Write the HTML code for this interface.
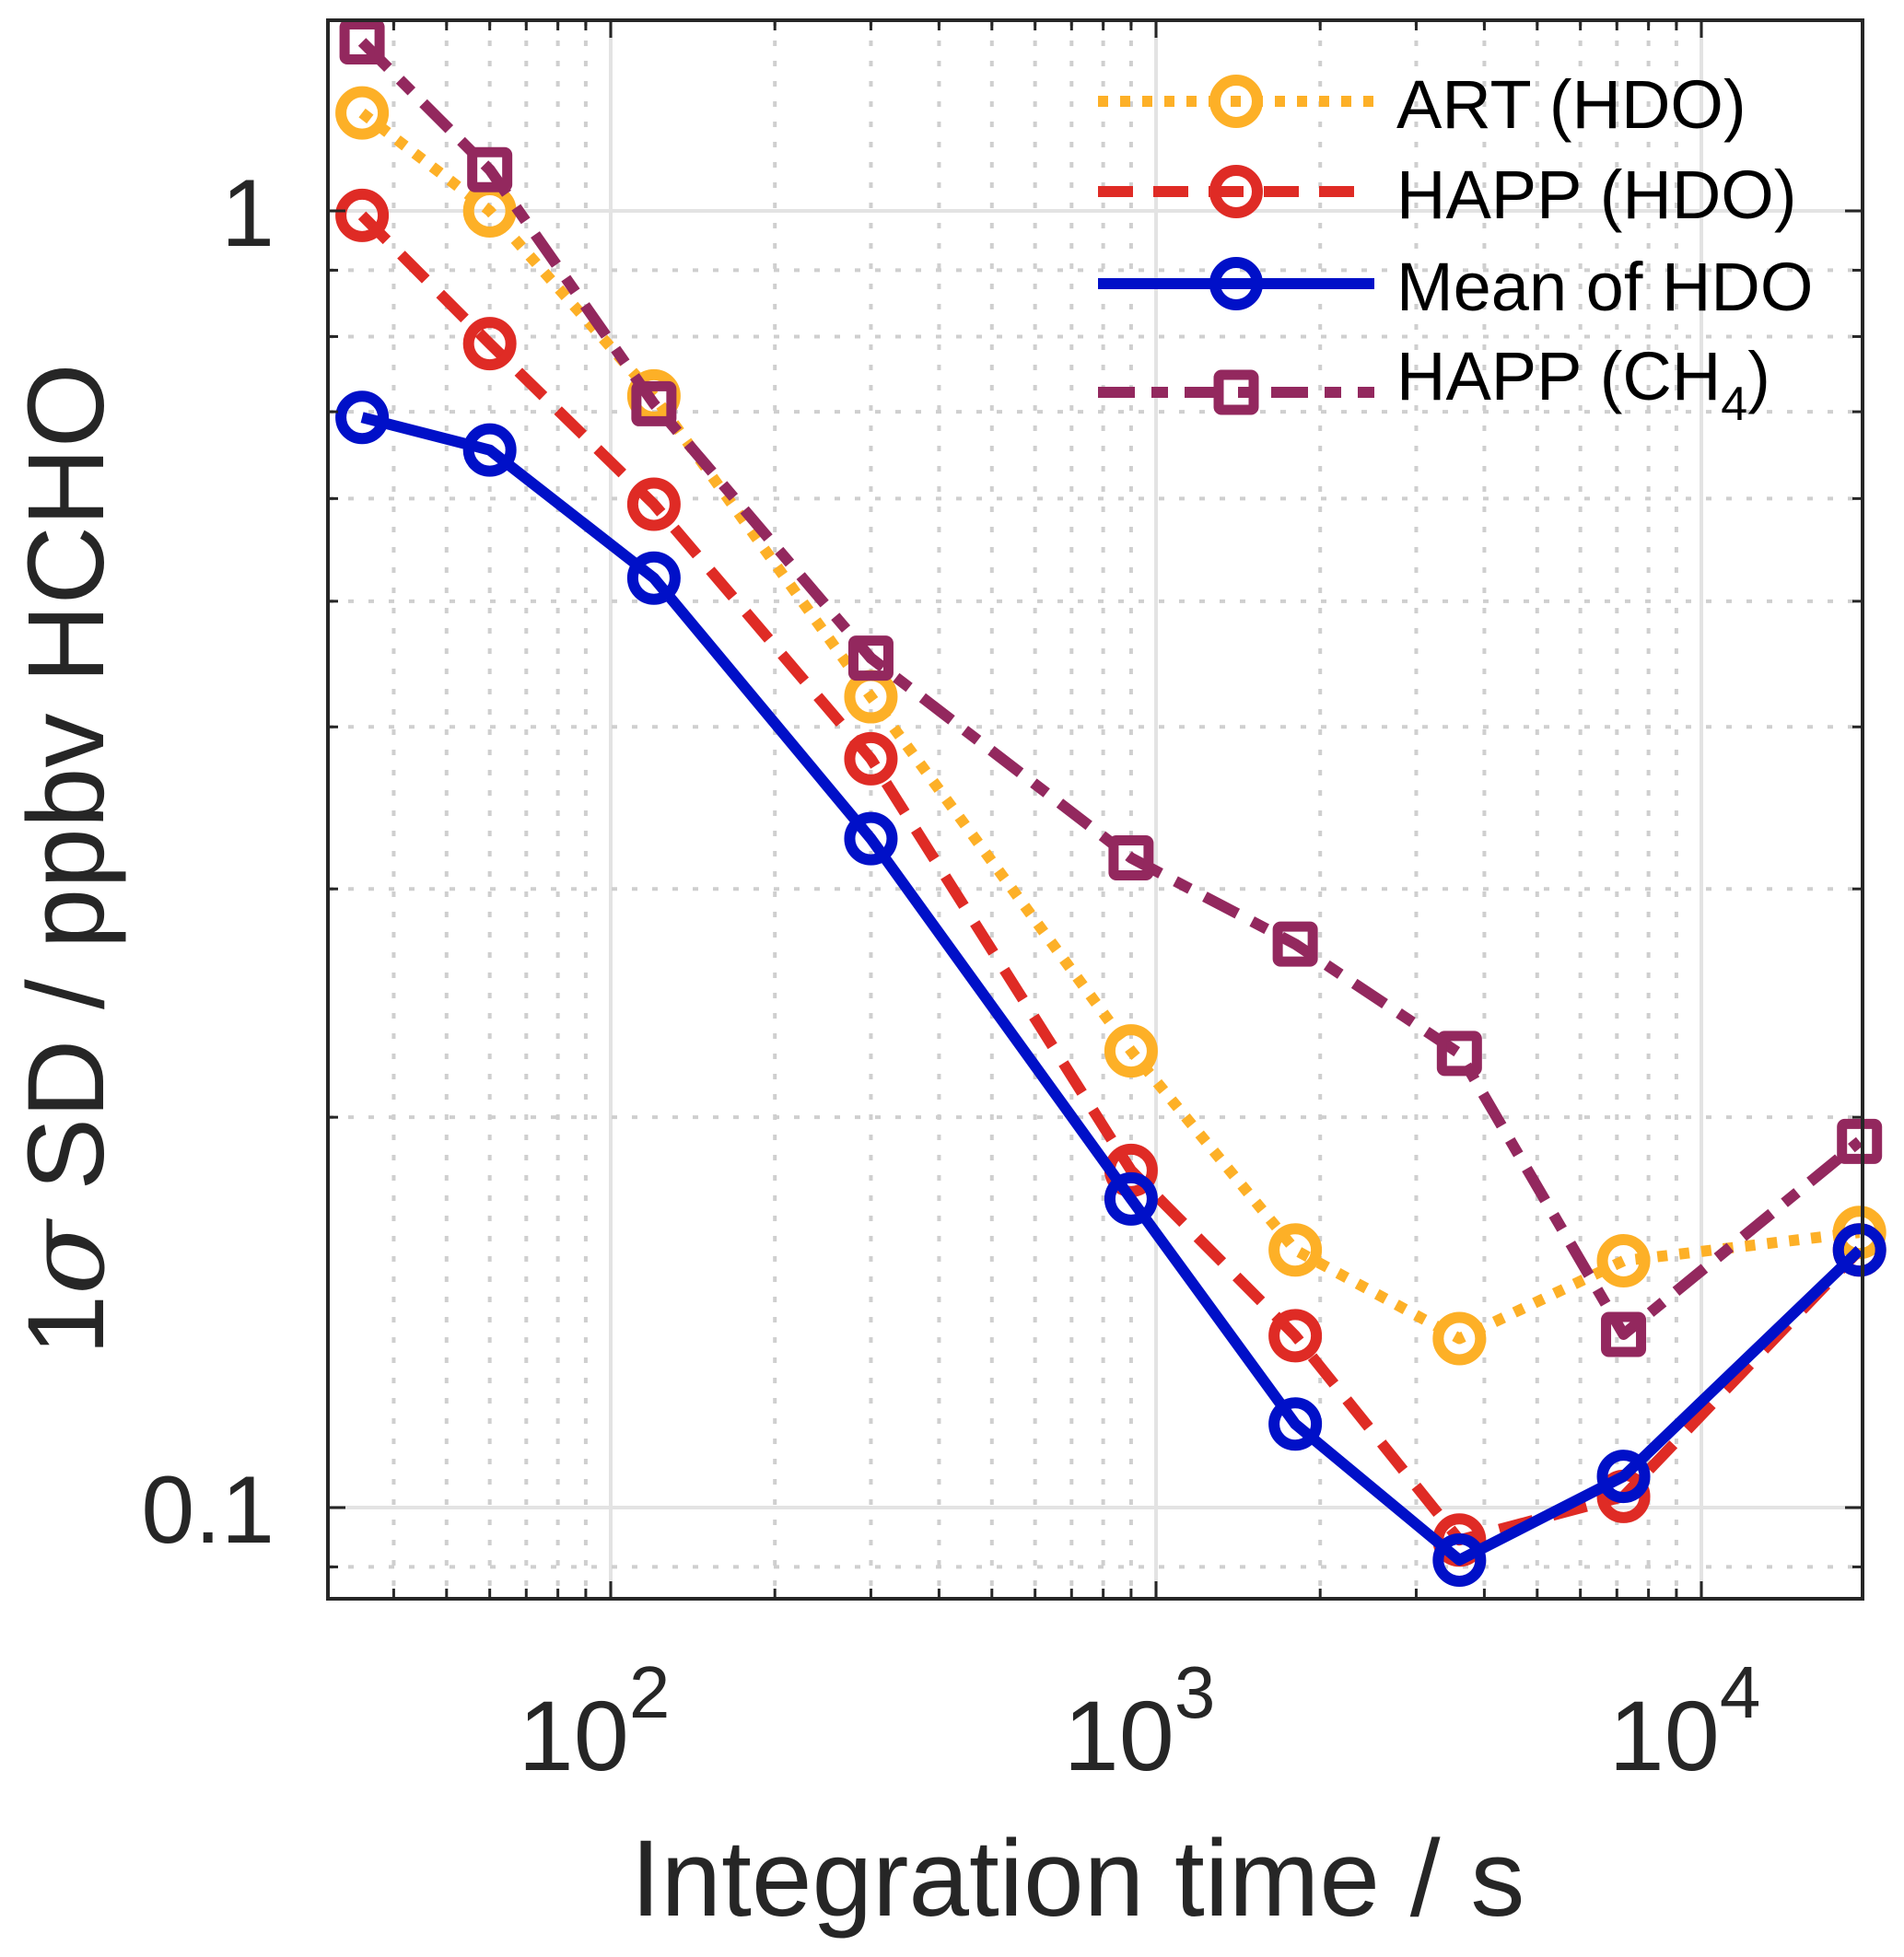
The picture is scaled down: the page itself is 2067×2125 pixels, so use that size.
<!DOCTYPE html>
<html><head><meta charset="utf-8"><style>
html,body{margin:0;padding:0;background:#fff;}
svg{display:block;font-family:"Liberation Sans",sans-serif;}
</style></head><body>
<svg id="chart" width="2067" height="2125" viewBox="0 0 2067 2125" xmlns="http://www.w3.org/2000/svg">
<g id="grid"></g>
<g id="series"></g>
<g id="axes"></g>
<g id="legend"></g>
<text x="1170" y="2080" font-size="118" fill="#262626" text-anchor="middle">Integration time / s</text>
<text transform="translate(112,933) rotate(-90)" font-size="118" fill="#262626" text-anchor="middle">1<tspan font-style="italic" font-family="'DejaVu Serif',serif">σ</tspan> SD / ppbv HCHO</text>
</svg>
<script>
const times = [35, 60, 120, 300, 900, 1800, 3600, 7200, 19500];
const artHDO = [1.19, 1.00, 0.72, 0.422, 0.225, 0.158, 0.135, 0.155, 0.163];
const happHDO = [0.992, 0.79, 0.594, 0.378, 0.182, 0.1357, 0.0944, 0.102, 0.158];
const meanHDO = [0.693, 0.654, 0.521, 0.328, 0.173, 0.116, 0.0911, 0.1057, 0.158];
const happCH4 = [1.35, 1.076, 0.71, 0.452, 0.317, 0.272, 0.224, 0.136, 0.1916];
const xTickExps = [2, 3, 4];
const yTickLabels = ["0.1", "1"];
const yTickValues = [0.1, 1];

const L=356, R=2022, T=22, B=1736;
const X0=663, XD=592;
const Y1=229, YD=1408;
const sx = v => X0 + (Math.log10(v)-2)*XD;
const sy = v => Y1 - Math.log10(v)*YD;
const NS="http://www.w3.org/2000/svg";
function mk(tag, attrs, parent){const e=document.createElementNS(NS,tag);for(const k in attrs)e.setAttribute(k,attrs[k]);parent.appendChild(e);return e;}
const grid=document.getElementById('grid'), axes=document.getElementById('axes'), series=document.getElementById('series'), legend=document.getElementById('legend');

for(let d=1; d<=4; d++){
  for(let m=1; m<=9; m++){
    const v=m*Math.pow(10,d); const x=sx(v);
    if(x<=L+1||x>=R-1) continue;
    if(m===1){
      const g=mk('line',{x1:x,y1:T,x2:x,y2:B,stroke:'#e3e3e3','stroke-width':4},grid);
      
      
    } else {
      const g=mk('line',{x1:x,y1:T,x2:x,y2:B,stroke:'#cfcfcf','stroke-width':4,'stroke-dasharray':'6 16'},grid);
      
      
    }
    const len = m===1?19:11;
    mk('line',{x1:x,y1:B,x2:x,y2:B-len,stroke:'#262626','stroke-width':3},axes);
    mk('line',{x1:x,y1:T,x2:x,y2:T+len,stroke:'#262626','stroke-width':3},axes);
  }
}
for(let d=-2; d<=0; d++){
  for(let m=1; m<=9; m++){
    const v=m*Math.pow(10,d); const y=sy(v);
    if(y<=T+1||y>=B-1) continue;
    if(m===1){
      const g=mk('line',{x1:L,y1:y,x2:R,y2:y,stroke:'#e3e3e3','stroke-width':4},grid);
      
      
    } else {
      const g=mk('line',{x1:L,y1:y,x2:R,y2:y,stroke:'#cfcfcf','stroke-width':4,'stroke-dasharray':'6 16'},grid);
      
      
    }
    const len = m===1?19:11;
    mk('line',{x1:L,y1:y,x2:L+len,y2:y,stroke:'#262626','stroke-width':3},axes);
    mk('line',{x1:R,y1:y,x2:R-len,y2:y,stroke:'#262626','stroke-width':3},axes);
  }
}
const frame=mk('rect',{x:L,y:T,width:R-L,height:B-T,fill:'none',stroke:'#262626','stroke-width':4},axes);



xTickExps.forEach(e=>{
  const t=mk('text',{x:sx(Math.pow(10,e))-18,y:1922,'font-size':108,fill:'#262626','text-anchor':'middle'},axes);
  
  
  t.textContent='10';
  const s=mk('tspan',{dy:-57,'font-size':80},t);
  s.textContent=String(e);
});
yTickValues.forEach((v,i)=>{
  const t=mk('text',{x:298,y:sy(v)+38,'font-size':104,fill:'#262626','text-anchor':'end'},axes);
  
  
  t.textContent=yTickLabels[i];
});

const specs=[
  {name:'art-hdo', data:artHDO, color:'#fdb027', dash:'11 13', marker:'circle', label:'ART (HDO)'},
  {name:'happ-hdo', data:happHDO, color:'#df2b25', dash:'38 22', marker:'circle', label:'HAPP (HDO)'},
  {name:'mean-hdo', data:meanHDO, color:'#0010c8', dash:'none', marker:'circle', label:'Mean of HDO'},
  {name:'happ-ch4', data:happCH4, color:'#93285e', dash:'40 18 18 18', marker:'square', label:'HAPP (CH4)'}
];
const drawOrder=[0,1,3,2];
function marker(parent, kind, x, y, color){
  let m;
  if(kind==='circle') m=mk('circle',{cx:x,cy:y,r:23,fill:'none',stroke:color,'stroke-width':12},parent);
  else m=mk('rect',{x:x-19,y:y-19,width:38,height:38,rx:3,fill:'none',stroke:color,'stroke-width':11},parent);
  return m;
}
drawOrder.forEach(i=>{
  const s=specs[i];
  const g=mk('g',{},series);
  
  
  const pts=times.map((t,j)=>sx(t)+','+sy(s.data[j])).join(' ');
  const pl=mk('polyline',{points:pts,fill:'none',stroke:s.color,'stroke-width':12,'stroke-dasharray':s.dash,'stroke-linejoin':'round'},g);
  
  
  times.forEach((t,j)=>{
    const m=marker(g,s.marker,sx(t),sy(s.data[j]),s.color);
    
    
  });
});

const legY=[110,208,308,426];
specs.forEach((s,i)=>{
  const g=mk('g',{},legend);
  
  
  const y=legY[i];
  mk('line',{x1:1192,y1:y,x2:1492,y2:y,stroke:s.color,'stroke-width':12,'stroke-dasharray':s.dash},g);
  marker(g,s.marker,1342,y,s.color);
  const t=mk('text',{x:1516,y:i===3?y+8:y+29,'font-size':74,fill:'#000'},g);
  if(i===3){
    t.textContent='HAPP (CH';
    const sub=mk('tspan',{dy:22,'font-size':52},t); sub.textContent='4';
    const cl=mk('tspan',{dy:-22,'font-size':74},t); cl.textContent=')';
  } else t.textContent=s.label;
});
</script>
</body></html>
